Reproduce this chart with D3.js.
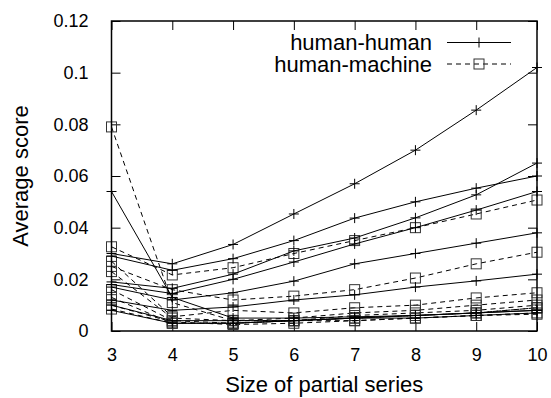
<!DOCTYPE html>
<html>
<head>
<meta charset="utf-8">
<script src="https://cdn.jsdelivr.net/npm/d3@7"></script>
<style>
  body { margin: 0; background: #fff; }
  text { font-family: "Liberation Sans", Arial, sans-serif; fill: #000; }
</style>
</head>
<body>
<script>
var W = 551, H = 398;
var margin = {top: 21, right: 14, bottom: 67, left: 111.5};

var sizes = [3, 4, 5, 6, 7, 8, 9, 10];
var yTicks = [0, 0.02, 0.04, 0.06, 0.08, 0.1, 0.12];
var yTickLabels = ["0", "0.02", "0.04", "0.06", "0.08", "0.1", "0.12"];

// human-human runs (solid, +)
var humanHuman = [
  [0.030, 0.026, 0.0335, 0.0453, 0.057, 0.070, 0.0855, 0.102],
  [0.029, 0.0235, 0.028, 0.035, 0.0437, 0.050, 0.0553, 0.060],
  [0.019, 0.0165, 0.022, 0.031, 0.036, 0.0438, 0.0527, 0.065],
  [0.018, 0.0145, 0.020, 0.0267, 0.0337, 0.040, 0.0468, 0.054],
  [0.017, 0.012, 0.0148, 0.0193, 0.026, 0.030, 0.034, 0.038],
  [0.012, 0.008, 0.0093, 0.012, 0.014, 0.017, 0.0194, 0.022],
  [0.054, 0.013, 0.005, 0.005, 0.0055, 0.006, 0.007, 0.008],
  [0.010, 0.004, 0.004, 0.004, 0.005, 0.006, 0.007, 0.008],
  [0.008, 0.003, 0.003, 0.004, 0.005, 0.005, 0.006, 0.007]
];

// human-machine runs (dashed, squares)
var humanMachine = [
  [0.079, 0.011, 0.004, 0.004, 0.005, 0.006, 0.007, 0.009],
  [0.0326, 0.0217, 0.0245, 0.030, 0.035, 0.040, 0.0453, 0.0507],
  [0.025, 0.016, 0.012, 0.0135, 0.016, 0.0205, 0.026, 0.0305],
  [0.027, 0.0055, 0.008, 0.007, 0.009, 0.010, 0.0128, 0.0148],
  [0.023, 0.005, 0.004, 0.005, 0.007, 0.008, 0.010, 0.012],
  [0.016, 0.004, 0.003, 0.004, 0.006, 0.007, 0.008, 0.010],
  [0.013, 0.003, 0.003, 0.004, 0.005, 0.006, 0.007, 0.009],
  [0.010, 0.0035, 0.0025, 0.003, 0.004, 0.005, 0.006, 0.007],
  [0.0085, 0.003, 0.003, 0.004, 0.004, 0.005, 0.006, 0.0065]
];

var legendNames = ["human-human", "human-machine"];

var width = W - margin.left - margin.right,
    height = H - margin.top - margin.bottom;

var svg = d3.select("body").append("svg")
    .attr("width", W)
    .attr("height", H);

var g = svg.append("g")
    .attr("transform", "translate(" + margin.left + "," + margin.top + ")");

var x = d3.scaleLinear().domain([3, 10]).range([0, width]);
var y = d3.scaleLinear().domain([0, 0.12]).range([height, 0]);

var tickLen = 9;
var tickFont = 18, titleFont = 22;

// axes with inward ticks (gnuplot style, mirrored)
var xAxis = d3.axisBottom(x).tickValues(sizes).tickSize(-tickLen).tickPadding(tickLen + 8).tickFormat(d3.format("d"));
var xAxisTop = d3.axisTop(x).tickValues(sizes).tickSize(-tickLen).tickFormat("");
var yAxis = d3.axisLeft(y).tickValues(yTicks).tickSize(-tickLen).tickPadding(tickLen + 14)
    .tickFormat(function(d, i) { return yTickLabels[i]; });
var yAxisRight = d3.axisRight(y).tickValues(yTicks).tickSize(-tickLen).tickFormat("");

function style(sel) {
  sel.select(".domain").remove();
  sel.selectAll("line").attr("stroke", "#000").attr("stroke-width", 1);
  sel.selectAll("text").attr("font-size", tickFont).attr("font-family", "Liberation Sans, Arial, sans-serif");
}

g.append("g").attr("transform", "translate(0," + height + ")").call(xAxis).call(style);
g.append("g").call(xAxisTop).call(style);
g.append("g").call(yAxis).call(style);
g.append("g").attr("transform", "translate(" + width + ",0)").call(yAxisRight).call(style);

var line = d3.line()
    .x(function(d, i) { return x(sizes[i]); })
    .y(function(d) { return y(d); });

function plus(sel, cx, cy) {
  sel.append("path")
    .attr("d", "M" + (cx - 5) + "," + cy + "H" + (cx + 5) + "M" + cx + "," + (cy - 5) + "V" + (cy + 5))
    .attr("stroke", "#000").attr("stroke-width", 1).attr("fill", "none");
}
function square(sel, cx, cy) {
  sel.append("rect")
    .attr("x", cx - 5).attr("y", cy - 5).attr("width", 10).attr("height", 10)
    .attr("stroke", "#333").attr("stroke-width", 1).attr("fill", "none");
}

var plot = g.append("g");

humanMachine.forEach(function(s) {
  plot.append("path").datum(s).attr("d", line)
    .attr("fill", "none").attr("stroke", "#000").attr("stroke-width", 1)
    .attr("stroke-dasharray", "5,4");
  s.forEach(function(v, i) { square(plot, x(sizes[i]), y(v)); });
});

humanHuman.forEach(function(s) {
  plot.append("path").datum(s).attr("d", line)
    .attr("fill", "none").attr("stroke", "#000").attr("stroke-width", 1);
  s.forEach(function(v, i) { plus(plot, x(sizes[i]), y(v)); });
});

// border
g.append("rect")
  .attr("width", width).attr("height", height)
  .attr("fill", "none").attr("stroke", "#000").attr("stroke-width", 1.5);

// legend
var leg = svg.append("g");
legendNames.forEach(function(name, i) {
  var ly = 42.5 + i * 21.5;
  leg.append("text").attr("x", 432).attr("y", ly).attr("dy", "0.35em")
    .attr("text-anchor", "end").attr("font-size", titleFont).text(name);
  var ln = leg.append("line").attr("x1", 447).attr("x2", 511).attr("y1", ly).attr("y2", ly)
    .attr("stroke", "#000").attr("stroke-width", 1);
  if (i === 0) plus(leg, 479, ly);
  else { ln.attr("stroke-dasharray", "5,4"); square(leg, 479, ly); }
});

// axis titles
svg.append("text")
  .attr("x", margin.left + width / 2).attr("y", 392)
  .attr("text-anchor", "middle").attr("font-size", titleFont)
  .text("Size of partial series");

svg.append("text")
  .attr("transform", "translate(28," + (margin.top + height / 2) + ") rotate(-90)")
  .attr("text-anchor", "middle").attr("font-size", titleFont)
  .text("Average score");
</script>
</body>
</html>
